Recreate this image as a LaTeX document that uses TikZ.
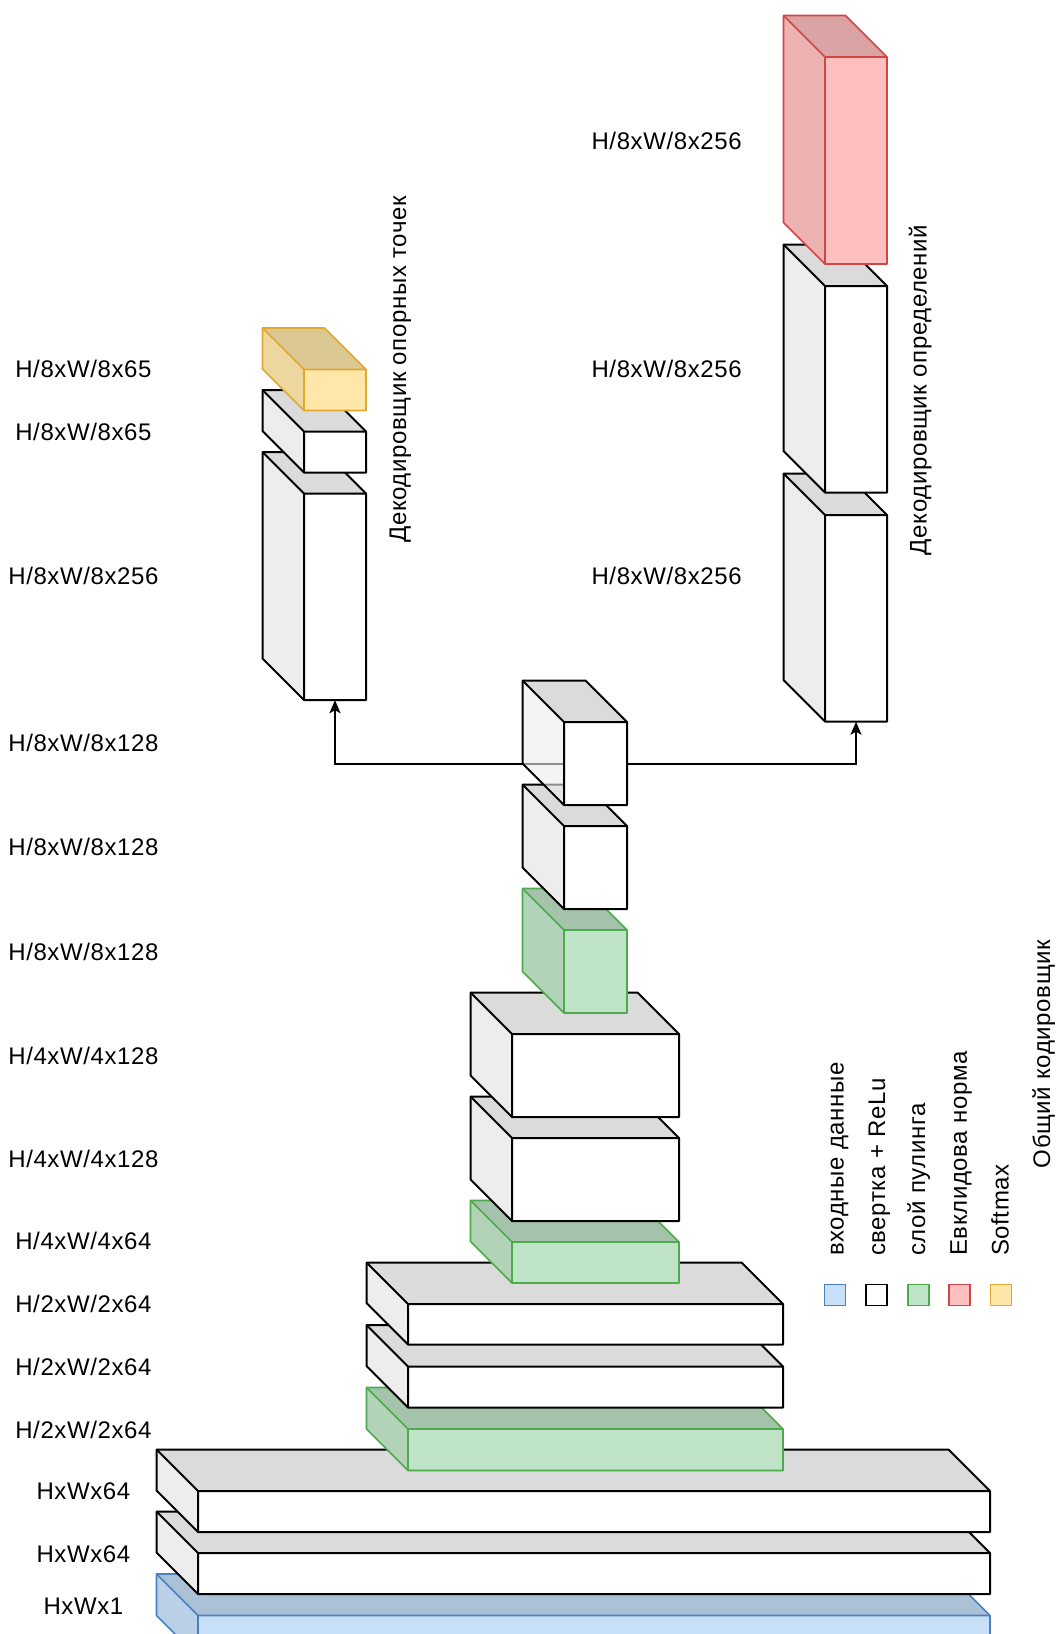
\documentclass[tikz,border=0pt]{standalone}
\usepackage{fontspec}
\setmainfont{Liberation Sans}[LetterSpace=2.5]
\usetikzlibrary{arrows.meta,fit}
\pgfdeclarelayer{background}
\pgfsetlayers{background,main}
\definecolor{bfill}{HTML}{C7E0F8}
\definecolor{bline}{HTML}{4A7FC0}
\definecolor{gfill}{HTML}{BFE3C6}
\definecolor{gline}{HTML}{4DAA4D}
\definecolor{rfill}{HTML}{FFBFBF}
\definecolor{rline}{HTML}{D24545}
\definecolor{yfill}{HTML}{FFE7AA}
\definecolor{yline}{HTML}{E0A92E}
\newcommand{\dd}{41.5}
\newcommand{\lbfont}{\fontsize{24}{28}\selectfont}
% #1 left-face opacity, #2 name, #3 x1, #4 y1, #5 x2, #6 y2 (front face), #7 fill, #8 stroke style
\newcommand{\mycube}[8][1]{%
  \fill[#7!86!black] (#3-\dd,#4-\dd) -- (#5-\dd,#4-\dd) -- (#5,#4) -- (#3,#4) -- cycle;
  \fill[#7!93!black, fill opacity=#1] (#3-\dd,#4-\dd) -- (#3,#4) -- (#3,#6) -- (#3-\dd,#6-\dd) -- cycle;
  \fill[#7] (#3,#4) rectangle (#5,#6);
  \draw[#8, line join=round] (#3-\dd,#4-\dd) -- (#5-\dd,#4-\dd) -- (#5,#4) -- (#5,#6) -- (#3,#6) -- (#3-\dd,#6-\dd) -- cycle;
  \draw[#8, line join=round] (#3-\dd,#4-\dd) -- (#3,#4) -- (#5,#4) (#3,#4) -- (#3,#6);
  \coordinate (#2tl) at (#3,#4);
  \coordinate (#2br) at (#5,#6);
  \node[fit=(#2tl)(#2br), inner sep=0pt] (#2) {};
}
\tikzset{
  kb/.style={draw=black, line width=2pt},
  kg/.style={draw=gline, line width=1.6pt},
  kbl/.style={draw=bline, line width=1.6pt},
  kr/.style={draw=rline, line width=1.6pt},
  ky/.style={draw=yline, line width=1.6pt},
  lbl/.style={font=\lbfont, inner sep=0pt},
  rot/.style={font=\lbfont, inner sep=0pt, rotate=90},
  sq/.style={minimum size=21pt, inner sep=0pt, line width=1.8pt},
  conn/.style={draw=black, line width=2pt, -{Stealth[length=13pt,width=11pt,inset=3pt]}}
}
\begin{document}
\begin{tikzpicture}[x=1pt,y=-1pt]
\useasboundingbox (0,0) rectangle (1059,1634);
\begin{pgfonlayer}{background}
\fill[white] (0,0) rectangle (1059,1634);
\end{pgfonlayer}
\clip (0,0) rectangle (1059,1634);

% shared encoder stack (bottom to top)
\mycube{in}{198}{1615.5}{990}{1657}{bfill}{kbl}
\mycube{e2}{198}{1553}{990}{1594}{white}{kb}
\mycube{e1}{198}{1491}{990}{1532}{white}{kb}
\mycube{p1}{408}{1429}{783}{1470.5}{gfill}{kg}
\mycube{h2}{408}{1366.5}{783}{1407.5}{white}{kb}
\mycube{h1}{408}{1304}{783}{1344.5}{white}{kb}
\mycube{p2}{512}{1242}{679}{1283}{gfill}{kg}
\mycube{q2}{512}{1138}{679}{1221}{white}{kb}
\mycube{q1}{512}{1034}{679}{1117}{white}{kb}
\mycube{p3}{564}{930}{627}{1013}{gfill}{kg}
\mycube{r2}{564}{826}{627}{909}{white}{kb}
\mycube[0.6]{r1}{564}{722}{627}{805}{white}{kb}

% keypoint decoder
\mycube{kp1}{304}{493.5}{366}{700}{white}{kb}
\mycube{kp2}{304}{431.5}{366}{472.5}{white}{kb}
\mycube{kp3}{304}{369.5}{366}{410.5}{yfill}{ky}

% descriptor decoder
\mycube{ds1}{825}{515}{887}{721.5}{white}{kb}
\mycube{ds2}{825}{286}{887}{492.5}{white}{kb}
\mycube{ds3}{825}{57}{887}{264}{rfill}{kr}

% connectors
\begin{pgfonlayer}{background}
\draw[conn] (r1.center) -| (kp1.south);
\draw[conn] (r1.center) -| (ds1.south);
\end{pgfonlayer}

% left labels
\node[lbl] (l1) at (83.4,369) {H/8xW/8x65};
\node[lbl] (l2) at (83.4,431.5) {H/8xW/8x65};
\node[lbl] (l3) at (83.4,576.4) {H/8xW/8x256};
\node[lbl] (l4) at (83.4,743) {H/8xW/8x128};
\node[lbl] (l5) at (83.4,847.4) {H/8xW/8x128};
\node[lbl] (l6) at (83.4,951.6) {H/8xW/8x128};
\node[lbl] (l7) at (83.4,1055.8) {H/4xW/4x128};
\node[lbl] (l8) at (83.4,1159) {H/4xW/4x128};
\node[lbl] (l9) at (83.4,1241.4) {H/4xW/4x64};
\node[lbl] (l10) at (83.4,1304) {H/2xW/2x64};
\node[lbl] (l11) at (83.4,1366.5) {H/2xW/2x64};
\node[lbl] (l12) at (83.4,1430) {H/2xW/2x64};
\node[lbl] (l13) at (83.4,1491.5) {HxWx64};
\node[lbl] (l14) at (83.4,1554) {HxWx64};
\node[lbl] (l15) at (83.4,1606) {HxWx1};

% middle labels
\node[lbl] (m1) at (666.6,140.7) {H/8xW/8x256};
\node[lbl] (m2) at (666.6,369) {H/8xW/8x256};
\node[lbl] (m3) at (666.6,576.4) {H/8xW/8x256};

% rotated titles
\node[rot, anchor=base] (dk) at (406,369.5) {Декодировщик опорных точек};
\node[rot, anchor=base] (dd) at (926.5,390) {Декодировщик определений};
\node[rot, anchor=base] (enc) at (1050,1054) {Общий кодировщик};

% legend
\node[sq, fill=bfill, draw=bline] (s1) at (835,1295) {};
\node[sq, fill=white, draw=black] (s2) at (876.7,1295) {};
\node[sq, fill=gfill, draw=gline] (s3) at (918.3,1295) {};
\node[sq, fill=rfill, draw=rline] (s4) at (959.3,1295) {};
\node[sq, fill=yfill, draw=yline] (s5) at (1001,1295) {};
\node[rot, anchor=base west] (t1) at (843.5,1256) {входные данные};
\node[rot, anchor=base west] (t2) at (885.2,1256) {свертка + ReLu};
\node[rot, anchor=base west] (t3) at (925.2,1256) {слой пулинга};
\node[rot, anchor=base west] (t4) at (966.8,1256) {Евклидова норма};
\node[rot, anchor=base west] (t5) at (1008.5,1256) {Softmax};
\end{tikzpicture}
\end{document}
